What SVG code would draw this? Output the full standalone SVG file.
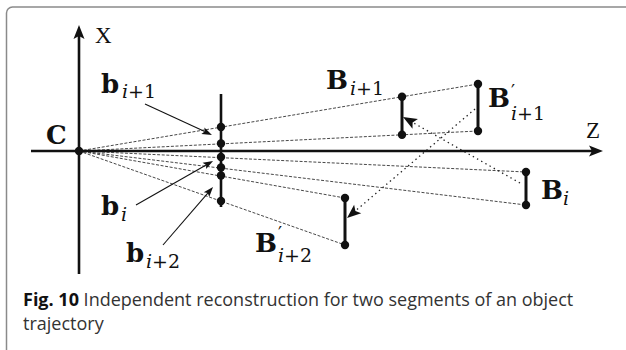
<svg xmlns="http://www.w3.org/2000/svg" width="626" height="350" viewBox="0 0 626 350">
<style>
.ax{stroke:#111;stroke-width:2.6;fill:none}
.seg{stroke:#111;stroke-width:3;fill:none}
.ray{stroke:#333;stroke-width:0.9;stroke-dasharray:3 1.6;fill:none}
.dot{stroke:#222;stroke-width:1.3;stroke-dasharray:1.4 3.4;fill:none}
.thin{stroke:#111;stroke-width:1.1;fill:none}
.pt{fill:#111}
.m{font-family:"DejaVu Serif","Liberation Serif",serif;fill:#111}
.bf{font-weight:bold;font-size:26px}
.sub{font-size:19px}
.pr{font-size:18px}
.it{font-style:italic}
.rm{font-size:23px;font-family:"Liberation Serif",serif;fill:#111}
.cap{font-family:"Open Sans","Noto Sans",sans-serif;font-size:18px;fill:#333}
</style>
<defs>
<marker id="ah" markerUnits="userSpaceOnUse" markerWidth="20" markerHeight="20" refX="0" refY="0" viewBox="-5 -8 20 16" orient="auto" overflow="visible">
<path d="M-3,-5.5 L11,0 L-3,5.5 L0,0 Z" fill="#111"/>
</marker>
<marker id="ahs" markerUnits="userSpaceOnUse" markerWidth="14" markerHeight="14" refX="0" refY="0" viewBox="-4 -6 14 12" orient="auto" overflow="visible">
<path d="M-2,-3.6 L8,0 L-2,3.6 L0,0 Z" fill="#111"/>
</marker>
</defs>
<rect x="6.5" y="7" width="640" height="360" rx="6" fill="#fff" stroke="#8a8a8a" stroke-width="1.5"/>
<g id="connectors">
<line class="ray" x1="79" y1="151" x2="478" y2="84"/>
<line class="ray" x1="79" y1="151" x2="478" y2="131"/>
<line class="ray" x1="79" y1="151" x2="526" y2="172"/>
<line class="ray" x1="79" y1="151" x2="526" y2="205"/>
<line class="ray" x1="79" y1="151" x2="345" y2="198"/>
<line class="ray" x1="79" y1="151" x2="345" y2="245"/>
<line class="dot" x1="520" y1="183" x2="412.6" y2="122.4" marker-end="url(#ah)"/>
<line class="dot" x1="475" y1="109" x2="355.4" y2="210.9" marker-end="url(#ah)"/>
<line class="thin" x1="145" y1="104" x2="204.7" y2="131.6" marker-end="url(#ahs)"/>
<line class="thin" x1="136" y1="205" x2="206.1" y2="165" marker-end="url(#ahs)"/>
<line class="thin" x1="163" y1="245" x2="207.8" y2="193.1" marker-end="url(#ahs)"/>
</g>
<g id="axes">
<line class="ax" x1="79" y1="274" x2="79" y2="36" marker-end="url(#ah)"/>
<line class="ax" x1="31" y1="151" x2="592" y2="151" marker-end="url(#ah)"/>
<text class="rm" x="95" y="43">X</text>
<text class="rm" x="586" y="138">Z</text>
</g>
<g id="C">
<circle class="pt" cx="79" cy="151" r="4.2"/>
<text class="m bf" x="46" y="144">C</text>
</g>
<g id="image-plane">
<line class="ax" x1="221" y1="94" x2="221" y2="207"/>
<circle class="pt" cx="221" cy="127" r="4.2"/>
<circle class="pt" cx="221" cy="143.5" r="4.2"/>
<circle class="pt" cx="221" cy="157" r="4.2"/>
<circle class="pt" cx="221" cy="167.5" r="4.2"/>
<circle class="pt" cx="221" cy="175.5" r="4.2"/>
<circle class="pt" cx="221" cy="201" r="4.2"/>
</g>
<g id="b_i1"><text class="m bf" x="101" y="93">b</text><text class="m sub it" x="122" y="98">i<tspan font-style="normal">+1</tspan></text></g>
<g id="b_i"><text class="m bf" x="101" y="215">b</text><text class="m sub it" x="121" y="221">i</text></g>
<g id="b_i2"><text class="m bf" x="126" y="262">b</text><text class="m sub it" x="146" y="268">i<tspan font-style="normal">+2</tspan></text></g>
<g id="B_i1">
<line class="seg" x1="402" y1="96.8" x2="402" y2="134.8"/>
<circle class="pt" cx="402" cy="96.8" r="4.2"/>
<circle class="pt" cx="402" cy="134.8" r="4.2"/>
<text class="m bf" x="326" y="89">B</text><text class="m sub it" x="350" y="95">i<tspan font-style="normal">+1</tspan></text>
</g>
<g id="Bp_i1">
<line class="seg" x1="478" y1="84" x2="478" y2="131"/>
<circle class="pt" cx="478" cy="84" r="4.2"/>
<circle class="pt" cx="478" cy="131" r="4.2"/>
<text class="m bf" x="488" y="107">B</text><text class="m pr" x="511" y="98">′</text><text class="m sub it" x="511" y="120">i<tspan font-style="normal">+1</tspan></text>
</g>
<g id="B_i">
<line class="seg" x1="526" y1="172" x2="526" y2="205"/>
<circle class="pt" cx="526" cy="172" r="4.2"/>
<circle class="pt" cx="526" cy="205" r="4.2"/>
<text class="m bf" x="541" y="199">B</text><text class="m sub it" x="563" y="205">i</text>
</g>
<g id="Bp_i2">
<line class="seg" x1="345" y1="198" x2="345" y2="245"/>
<circle class="pt" cx="345" cy="198" r="4.2"/>
<circle class="pt" cx="345" cy="245" r="4.2"/>
<text class="m bf" x="255" y="252">B</text><text class="m pr" x="278" y="240">′</text><text class="m sub it" x="278" y="262">i<tspan font-style="normal">+2</tspan></text>
</g>
<g id="caption">
<text class="cap" x="23" y="306"><tspan font-weight="bold" fill="#111">Fig. 10</tspan> Independent reconstruction for two segments of an object</text>
<text class="cap" x="23" y="330">trajectory</text>
</g>
</svg>
